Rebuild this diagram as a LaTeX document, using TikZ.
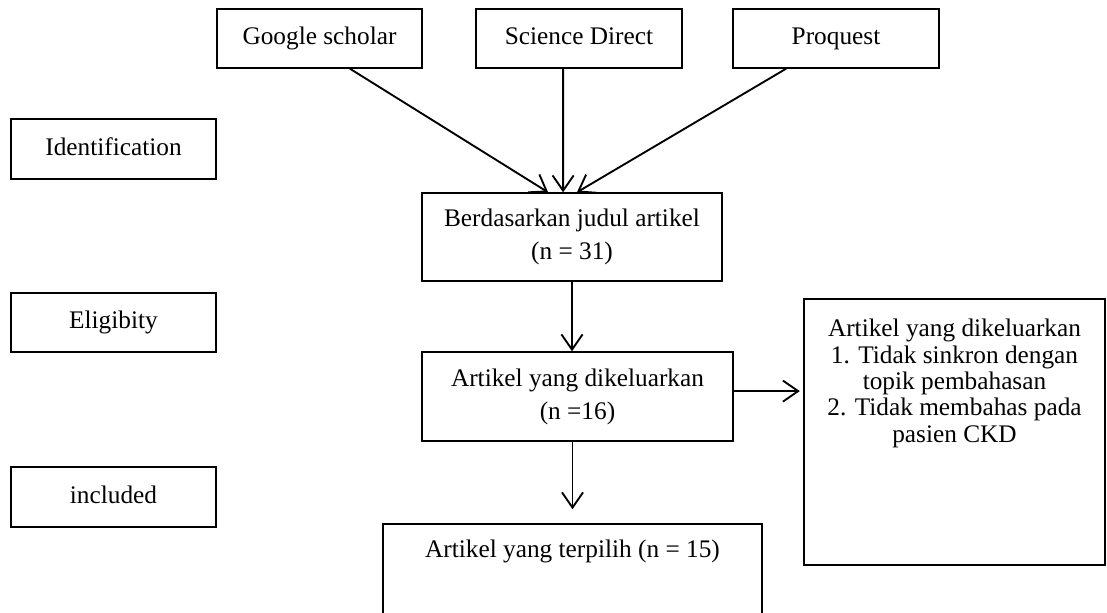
\documentclass[tikz,border=0pt]{standalone}
\usepackage{fontspec}
\setmainfont{Liberation Serif}
\usetikzlibrary{arrows.meta}
\tikzset{kotak/.style={draw,line width=0.6pt,inner sep=0pt,align=center},
  satu/.style={text height=1.6ex,text depth=.45ex},
  panah/.style={line width=0.8pt,-{Straight Barb[length=6.5pt,width=9pt]}}}

\begin{document}
\begin{tikzpicture}[x=0.015cm,y=-0.015cm,font=\fontsize{10.8}{14.1}\selectfont]
\useasboundingbox (0,0) rectangle (1107,612);
\clip (0,0) rectangle (1107,612);
% sumber data
\node [kotak,satu,minimum width=3.075cm,minimum height=0.885cm] (google) at (319.5,38.5) {Google scholar};
\node [kotak,satu,minimum width=3.09cm,minimum height=0.885cm] (science) at (579,38.5) {Science Direct};
\node [kotak,satu,minimum width=3.09cm,minimum height=0.885cm] (proquest) at (836,38.5) {Proquest};
% tahap
\node [kotak,satu,minimum width=3.075cm,minimum height=0.9cm] (ident) at (113.5,149) {Identification};
\node [kotak,satu,minimum width=3.075cm,minimum height=0.885cm] (elig) at (113.5,322.5) {Eligibity};
\node [kotak,satu,minimum width=3.075cm,minimum height=0.9cm] (incl) at (113.5,497) {included};
% alur
\node [kotak,minimum width=4.5cm,minimum height=1.32cm] (judul) at (572,237) {Berdasarkan judul artikel\\(n = 31)};
\node [kotak,minimum width=4.665cm,minimum height=1.335cm] (keluar) at (577.5,396.5) {Artikel yang dikeluarkan\\(n =16)};
\node [kotak,minimum width=4.515cm,minimum height=3.99cm] (alasan) at (954.5,432) {};
\node [align=center,anchor=north,font=\fontsize{10.8}{11.3}\selectfont] (alasantxt) at ([yshift=-5.3pt]alasan.north) {Artikel yang dikeluarkan\\1. Tidak sinkron dengan\\topik pembahasan\\2. Tidak membahas pada\\pasien CKD};
\node [kotak,minimum width=5.685cm,minimum height=1.74cm] (pilih) at (572.5,582) {};
\node [anchor=north] (pilihtxt) at ([yshift=-3.6pt]pilih.north) {Artikel yang terpilih (n = 15)};

\draw [panah] ([xshift=13pt]google.south) -- ([xshift=-10.2pt]judul.north);
\draw [panah] ([xshift=-6.8pt]science.south) -- ([xshift=-3.8pt]judul.north);
\draw [panah] ([xshift=-21.3pt]proquest.south) -- ([xshift=2.1pt]judul.north);
\draw [panah] (judul.south) -- (judul.south |- keluar.north);
\draw [panah,shorten >=6pt] (pilih.north |- keluar.south) -- (pilih.north);
\draw [panah,shorten >=1.5pt] ([yshift=2.3pt]keluar.east) -- ([yshift=2.3pt]keluar.east -| alasan.west);

\end{tikzpicture}
\end{document}
